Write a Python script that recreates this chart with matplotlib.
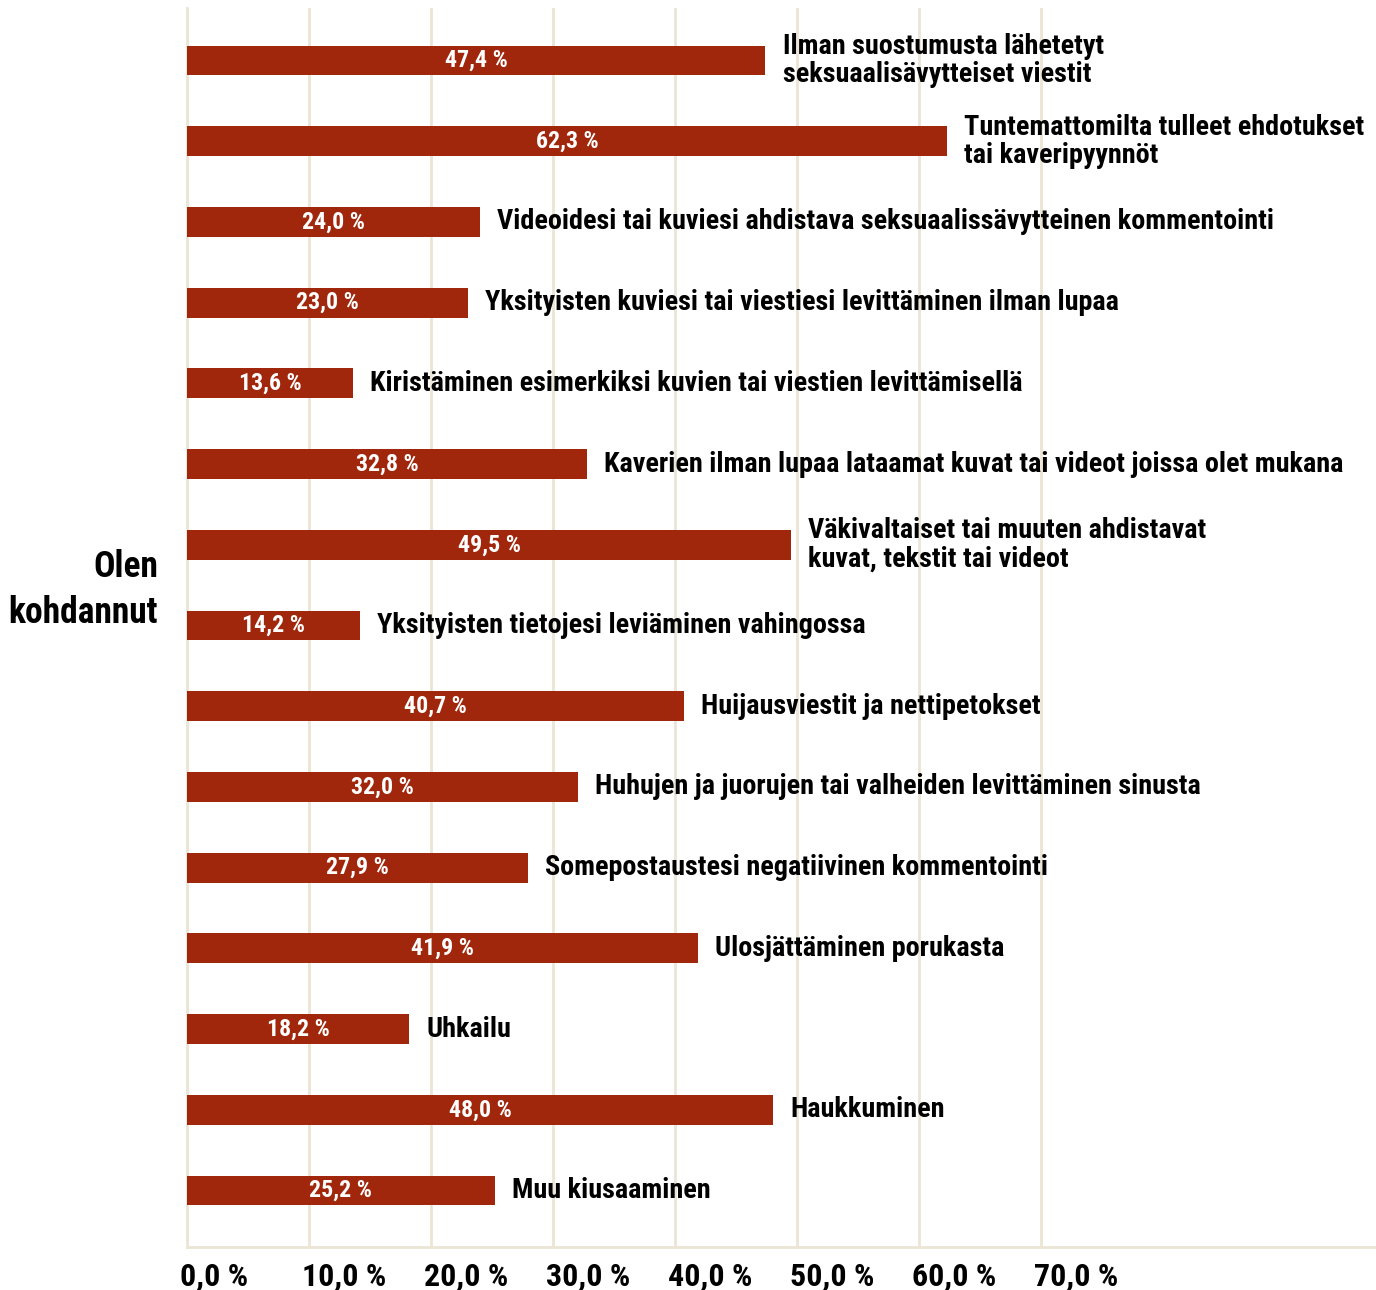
import matplotlib.pyplot as plt
from matplotlib import font_manager
import numpy as np

# data
labels = [
    "Ilman suostumusta lähetetyt\nseksuaalisävytteiset viestit",
    "Tuntemattomilta tulleet ehdotukset\ntai kaveripyynnöt",
    "Videoidesi tai kuviesi ahdistava seksuaalissävytteinen kommentointi",
    "Yksityisten kuviesi tai viestiesi levittäminen ilman lupaa",
    "Kiristäminen esimerkiksi kuvien tai viestien levittämisellä",
    "Kaverien ilman lupaa lataamat kuvat tai videot joissa olet mukana",
    "Väkivaltaiset tai muuten ahdistavat\nkuvat, tekstit tai videot",
    "Yksityisten tietojesi leviäminen vahingossa",
    "Huijausviestit ja nettipetokset",
    "Huhujen ja juorujen tai valheiden levittäminen sinusta",
    "Somepostaustesi negatiivinen kommentointi",
    "Ulosjättäminen porukasta",
    "Uhkailu",
    "Haukkuminen",
    "Muu kiusaaminen",
]
values = [47.4, 62.3, 24.0, 23.0, 13.6, 32.8, 49.5, 14.2, 40.7, 32.0, 27.9, 41.9, 18.2, 48.0, 25.2]
xticks = [0, 10, 20, 30, 40, 50, 60, 70]

# pick a narrow bold face; scale is relative to DejaVu Sans Condensed Bold
prefs = [('Roboto Condensed', 0.92), ('Liberation Sans Narrow', 0.95),
         ('Open Sans Condensed', 0.95), ('DejaVu Sans Condensed', 0.8), ('Condensed', 0.8)]
bold = ('bold', 700, 'heavy', 800)
cond, scale = None, 0.8
for key, sc in prefs:
    for f in font_manager.fontManager.ttflist:
        if key in (f.name + ' ' + f.fname.split('/')[-1].replace('-', ' ')) and f.weight in bold:
            cond, scale = f.fname, sc
            break
    if cond:
        break

def fp(s):
    if cond:
        return font_manager.FontProperties(fname=cond, size=s * scale, weight='bold')
    return font_manager.FontProperties(family='DejaVu Sans', size=s * 0.72, weight='bold')

bar_color = '#a1270c'
grid_color = '#ebe5d6'

fig = plt.figure(figsize=(13.76, 12.9), dpi=100)
ax = fig.add_axes([0.1359, 0.0333, 0.863, 0.9605])

y = np.arange(len(values))
ax.barh(y, values, height=0.37, color=bar_color, zorder=3)

for yi, v, lab in zip(y, values, labels):
    ax.text(v / 2, yi, f"{v:.1f} %".replace('.', ','), color='white',
            ha='center', va='center', fontproperties=fp(18.7), zorder=4)
    ax.text(v + 1.4, yi, lab, color='black', ha='left', va='center',
            fontproperties=fp(22), linespacing=1.06, zorder=4)

ax.set_xlim(0, 97.3)
ax.set_ylim(14.7, -0.65)
ax.set_xticks(xticks)
ax.set_xticklabels([])
for t in xticks:
    ax.annotate(f"{t:.1f} %".replace('.', ','), xy=(t, 0), xycoords=('data', 'axes fraction'),
                xytext=(-7, -29), textcoords='offset pixels', ha='left', va='center',
                fontproperties=fp(25))
ax.tick_params(axis='x', length=0)
ax.set_yticks([])
ax.grid(axis='x', color=grid_color, linewidth=2, zorder=0)

for s in ['top', 'right']:
    ax.spines[s].set_visible(False)
ax.spines['left'].set_color(grid_color)
ax.spines['left'].set_linewidth(2)
ax.spines['bottom'].set_color(grid_color)
ax.spines['bottom'].set_linewidth(2)

fig.text(158 / 1376, 1 - 590 / 1290, "Olen\nkohdannut", ha='right', va='center',
         fontproperties=fp(27.8), linespacing=1.38)

fig.savefig('out.png', dpi=100)
